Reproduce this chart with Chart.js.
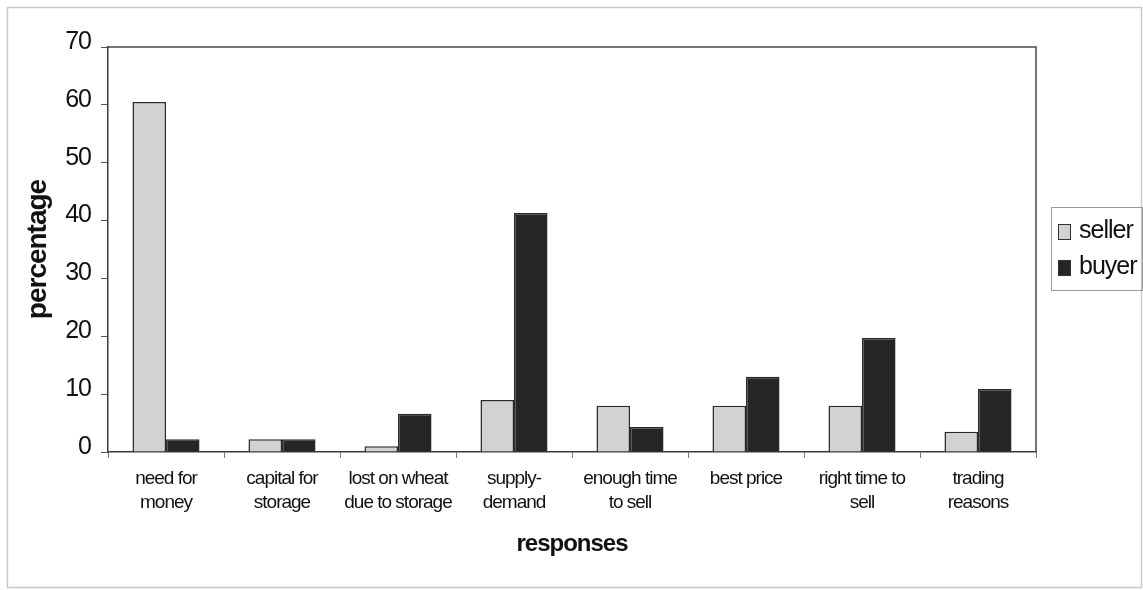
<!DOCTYPE html>
<html>
<head>
<meta charset="utf-8">
<script src="https://cdn.jsdelivr.net/npm/chart.js@4/dist/chart.umd.min.js"></script>
<style>
  html, body { margin: 0; padding: 0; background: #ffffff; }
  canvas { display: block; }
</style>
</head>
<body>
<canvas id="chart" width="1143" height="590"></canvas>
<script>
// Responses to the survey, in percent of each group
const categories = [
  ['need for', 'money'],
  ['capital for', 'storage'],
  ['lost on wheat', 'due to storage'],
  ['supply-', 'demand'],
  ['enough time', 'to sell'],
  ['best price'],
  ['right time to', 'sell'],
  ['trading', 'reasons']
];
const sellerValues = [60.5, 2.2, 1.0, 9.0, 8.0, 8.0, 8.0, 3.5];
const buyerValues  = [2.2, 2.2, 6.6, 41.3, 4.3, 13.0, 19.7, 10.9];
const seriesNames  = ['seller', 'buyer'];
const yTicks       = [0, 10, 20, 30, 40, 50, 60, 70];

const FONT = "'Liberation Sans', Arial, sans-serif";
const SELLER_FILL = '#d2d2d2';
const BUYER_FILL = '#252525';
const EDGE = '#2a2a2a';

// Tight letter spacing, like the narrow office-chart lettering
function tighten(chart) {
  chart.ctx.letterSpacing = '-1px';
}

const framePlugin = {
  id: 'frame',
  beforeLayout: tighten,
  beforeDraw(chart) {
    const ctx = chart.ctx;
    tighten(chart);
    ctx.save();
    ctx.fillStyle = '#ffffff';
    ctx.fillRect(0, 0, chart.width, chart.height);
    // outer border of the figure
    ctx.strokeStyle = '#c9c9c9';
    ctx.lineWidth = 1.5;
    ctx.strokeRect(7.5, 7.5, chart.width - 9, chart.height - 10);
    ctx.restore();
  },
  afterDraw(chart) {
    const ctx = chart.ctx;
    const a = chart.chartArea;
    ctx.save();
    // top and right edges of the plot box
    ctx.strokeStyle = '#4a4a4a';
    ctx.lineWidth = 1.5;
    ctx.beginPath();
    ctx.moveTo(a.left, a.top);
    ctx.lineTo(a.right, a.top);
    ctx.lineTo(a.right, a.bottom);
    ctx.stroke();

    // legend
    const lx = 1051, ly = 207, lw = 91, lh = 83;
    ctx.strokeStyle = '#9a9a9a';
    ctx.lineWidth = 1;
    ctx.strokeRect(lx + 0.5, ly + 0.5, lw, lh);
    ctx.font = '25px ' + FONT;
    ctx.letterSpacing = '-1px';
    ctx.textBaseline = 'middle';
    ctx.textAlign = 'left';
    chart.data.datasets.forEach((ds, i) => {
      const cy = ly + 24 + i * 36;
      ctx.fillStyle = ds.backgroundColor;
      ctx.fillRect(lx + 7, cy - 7, 13, 16);
      ctx.strokeStyle = '#333';
      ctx.lineWidth = 1;
      ctx.strokeRect(lx + 7.5, cy - 6.5, 12, 15);
      ctx.fillStyle = '#111';
      ctx.fillText(ds.label, lx + 28, cy);
    });
    ctx.restore();
  }
};

new Chart(document.getElementById('chart'), {
  type: 'bar',
  data: {
    labels: categories,
    datasets: [
      {
        label: seriesNames[0],
        data: sellerValues,
        backgroundColor: SELLER_FILL,
        borderColor: EDGE,
        borderWidth: 1.5
      },
      {
        label: seriesNames[1],
        data: buyerValues,
        backgroundColor: BUYER_FILL,
        borderColor: EDGE,
        borderWidth: 1.5
      }
    ]
  },
  options: {
    responsive: false,
    animation: false,
    devicePixelRatio: 1,
    layout: { padding: { left: 0, top: 47, right: 107, bottom: 0 } },
    datasets: {
      bar: { categoryPercentage: 0.578, barPercentage: 1.0 }
    },
    plugins: {
      legend: { display: false },
      tooltip: { enabled: false }
    },
    scales: {
      x: {
        grid: {
          offset: true,
          drawOnChartArea: false,
          drawTicks: true,
          tickLength: 6,
          color: '#777',
          lineWidth: 1
        },
        border: { display: true, color: '#3a3a3a', width: 1.5 },
        ticks: {
          color: '#111',
          font: { family: FONT, size: 19, lineHeight: 1.25 },
          padding: 9,
          maxRotation: 0,
          autoSkip: false
        },
        title: {
          display: true,
          text: 'responses',
          color: '#111',
          font: { family: FONT, size: 24, weight: 'bold' },
          padding: { top: 0, bottom: 31 }
        },
        afterFit(scale) { scale.height = 590 - 452; }
      },
      y: {
        min: 0,
        max: 70,
        afterBuildTicks(scale) {
          scale.ticks = yTicks.map(v => ({ value: v }));
        },
        grid: {
          drawOnChartArea: false,
          drawTicks: true,
          tickLength: 7,
          color: '#555',
          lineWidth: 1
        },
        border: { display: true, color: '#3a3a3a', width: 1.5 },
        ticks: {
          color: '#111',
          font: { family: FONT, size: 25 },
          padding: 10,
          labelOffset: -5
        },
        title: {
          display: true,
          text: 'percentage',
          color: '#111',
          font: { family: FONT, size: 28, weight: 'bold' },
          padding: { top: 21, bottom: 0 }
        },
        afterFit(scale) { scale.width = 108; }
      }
    }
  },
  plugins: [framePlugin]
});
</script>
</body>
</html>
